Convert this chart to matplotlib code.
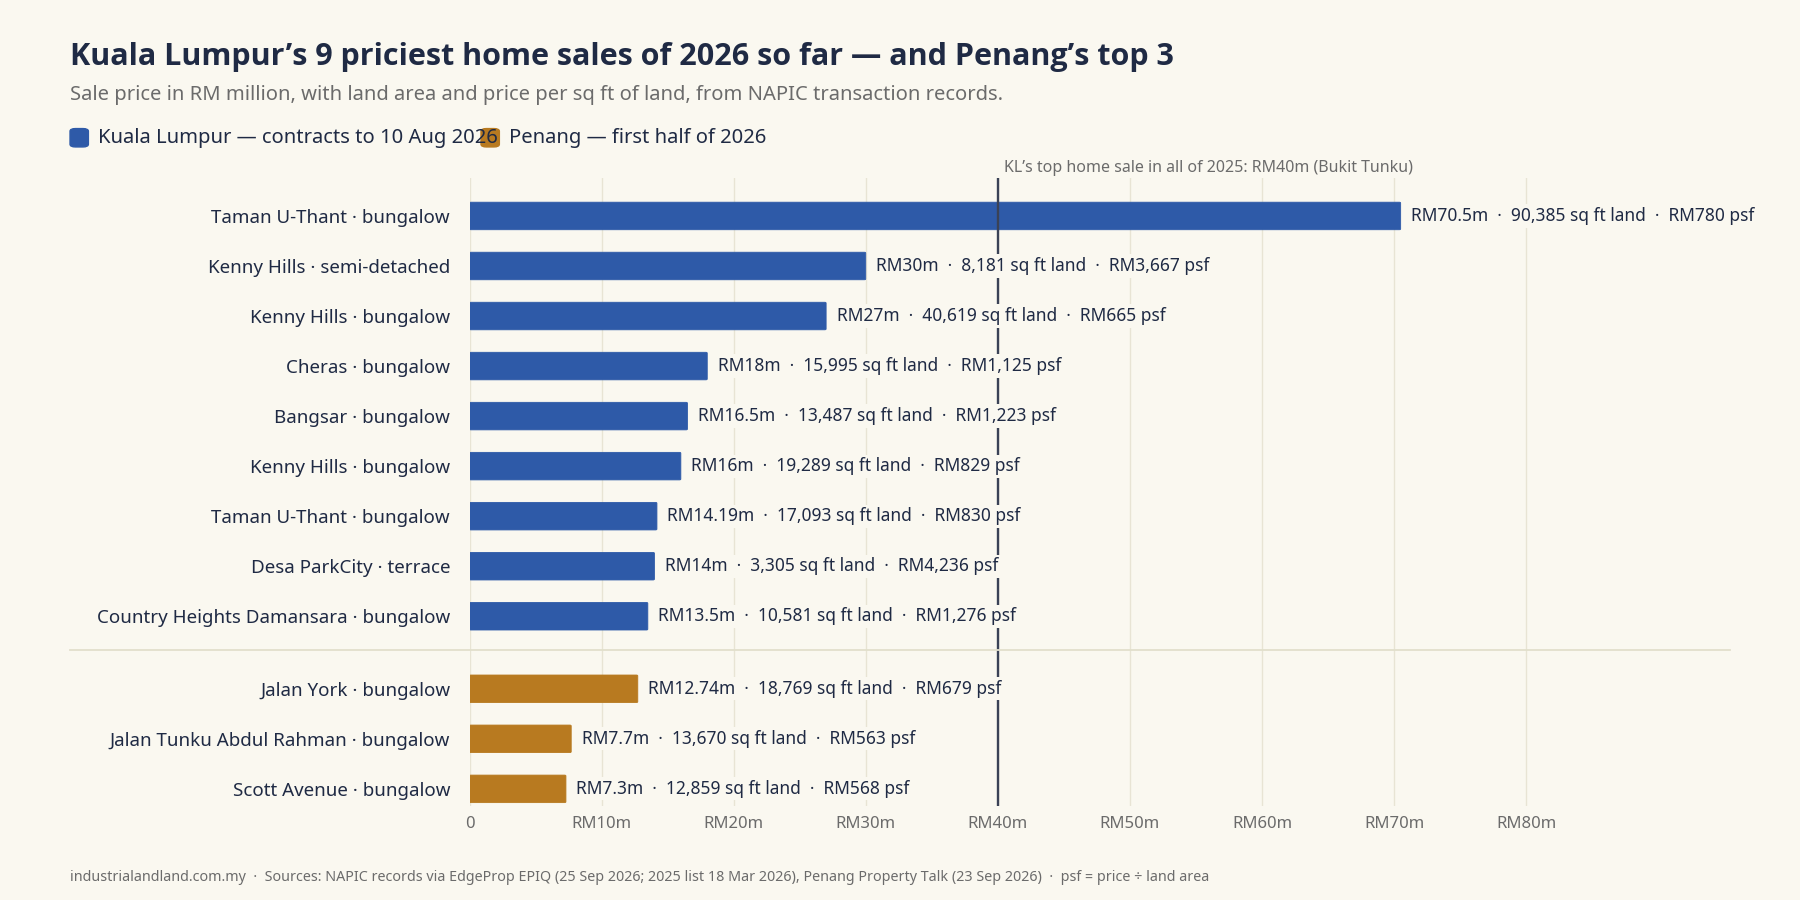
import matplotlib
matplotlib.use("Agg")
import matplotlib.pyplot as plt
from matplotlib.patches import FancyBboxPatch
from matplotlib.lines import Line2D

plt.rcParams['font.family'] = ['Noto Sans', 'DejaVu Sans']

categories = ["Taman U-Thant · bungalow", "Kenny Hills · semi-detached", "Kenny Hills · bungalow",
              "Cheras · bungalow", "Bangsar · bungalow", "Kenny Hills · bungalow",
              "Taman U-Thant · bungalow", "Desa ParkCity · terrace", "Country Heights Damansara · bungalow",
              "Jalan York · bungalow", "Jalan Tunku Abdul Rahman · bungalow", "Scott Avenue · bungalow"]
prices = [70.5, 30, 27, 18, 16.5, 16, 14.19, 14, 13.5, 12.74, 7.7, 7.3]
price_labels = ["RM70.5m", "RM30m", "RM27m", "RM18m", "RM16.5m", "RM16m", "RM14.19m", "RM14m",
                "RM13.5m", "RM12.74m", "RM7.7m", "RM7.3m"]
land_sqft = ["90,385", "8,181", "40,619", "15,995", "13,487", "19,289", "17,093", "3,305",
             "10,581", "18,769", "13,670", "12,859"]
psf = ["RM780", "RM3,667", "RM665", "RM1,125", "RM1,223", "RM829", "RM830", "RM4,236",
       "RM1,276", "RM679", "RM563", "RM568"]
region = ["KL"] * 9 + ["Penang"] * 3
ref_2025 = 40
xticks = [0, 10, 20, 30, 40, 50, 60, 70, 80]
xticklabels = ["0", "RM10m", "RM20m", "RM30m", "RM40m", "RM50m", "RM60m", "RM70m", "RM80m"]

BG = "#faf8f0"
BLUE = "#2e5aa8"
GOLD = "#b87a20"
NAVY = "#1f2a44"
GRAY = "#6b6b6b"
colors = {"KL": BLUE, "Penang": GOLD}
W, H = 1568, 784

fig = plt.figure(figsize=(18, 9), dpi=100, facecolor=BG)
ax = fig.add_axes([409/W, 1-702/H, (1502-409)/W, (702-155)/H])
ax.set_facecolor(BG)

ypos = [i if i < 9 else i + 0.45 for i in range(len(prices))]
h = 0.55
for y, v, r in zip(ypos, prices, region):
    ax.add_patch(FancyBboxPatch((0, y - h/2), v, h, boxstyle="round,pad=0,rounding_size=0.1",
                                mutation_aspect=0.17, fc=colors[r], ec=colors[r], lw=0.6, zorder=3))
for y, v, pl, l, p in zip(ypos, prices, price_labels, land_sqft, psf):
    ax.text(v + 0.8, y, f"{pl}  ·  {l} sq ft land  ·  {p} psf", va="center", ha="left",
            fontsize=12.5, color=NAVY, zorder=5,
            bbox=dict(boxstyle="square,pad=0.15", fc=BG, ec="none"))

ax.set_xlim(0, 95)
ax.set_ylim(11.45 + 0.34, -0.76)
ax.set_yticks(ypos)
ax.set_yticklabels(categories, fontsize=13.5, color=NAVY)
ax.set_xticks(xticks)
ax.set_xticklabels(xticklabels, fontsize=12, color=GRAY)
ax.tick_params(length=0, pad=14)
ax.tick_params(axis='x', pad=7)
for s in ax.spines.values():
    s.set_visible(False)
for x in xticks:
    ax.axvline(x, color="#e8e4d4", lw=1.0, zorder=0)
ax.axvline(ref_2025, color="#3a4256", lw=1.7, zorder=4)
ax.text(ref_2025 + 0.5, -0.8, "KL’s top home sale in all of 2025: RM40m (Bukit Tunku)",
        fontsize=11.5, color=GRAY, va="bottom", ha="left")

sep_y = 1 - 566/H
fig.add_artist(Line2D([61/W, 1507/W], [sep_y, sep_y], color="#e2dfcc", lw=1.3))

fig.text(61/W, 1-50/H, "Kuala Lumpur’s 9 priciest home sales of 2026 so far — and Penang’s top 3",
         fontsize=22, fontweight="bold", color=NAVY, va="center", family=["Open Sans", "DejaVu Sans"])
fig.text(61/W, 1-83/H, "Sale price in RM million, with land area and price per sq ft of land, from NAPIC transaction records.",
         fontsize=14.5, color=GRAY, va="center")
ly = 1-120/H
for x0, c, t in [(61, BLUE, "Kuala Lumpur — contracts to 10 Aug 2026"), (419, GOLD, "Penang — first half of 2026")]:
    fig.add_artist(FancyBboxPatch((x0/W, ly - 8/H), 16/W, 16/H,
                                  boxstyle="round,pad=0,rounding_size=0.003", fc=c, ec=c,
                                  transform=fig.transFigure))
    fig.text((x0 + 24)/W, ly, t, fontsize=14.5, color=NAVY, va="center")
fig.text(61/W, 1-764/H,
         "industrialandland.com.my  ·  Sources: NAPIC records via EdgeProp EPIQ (25 Sep 2026; 2025 list 18 Mar 2026), Penang Property Talk (23 Sep 2026)  ·  psf = price ÷ land area",
         fontsize=10.3, color=GRAY, va="center")

fig.savefig("out.png", dpi=100, facecolor=BG)
